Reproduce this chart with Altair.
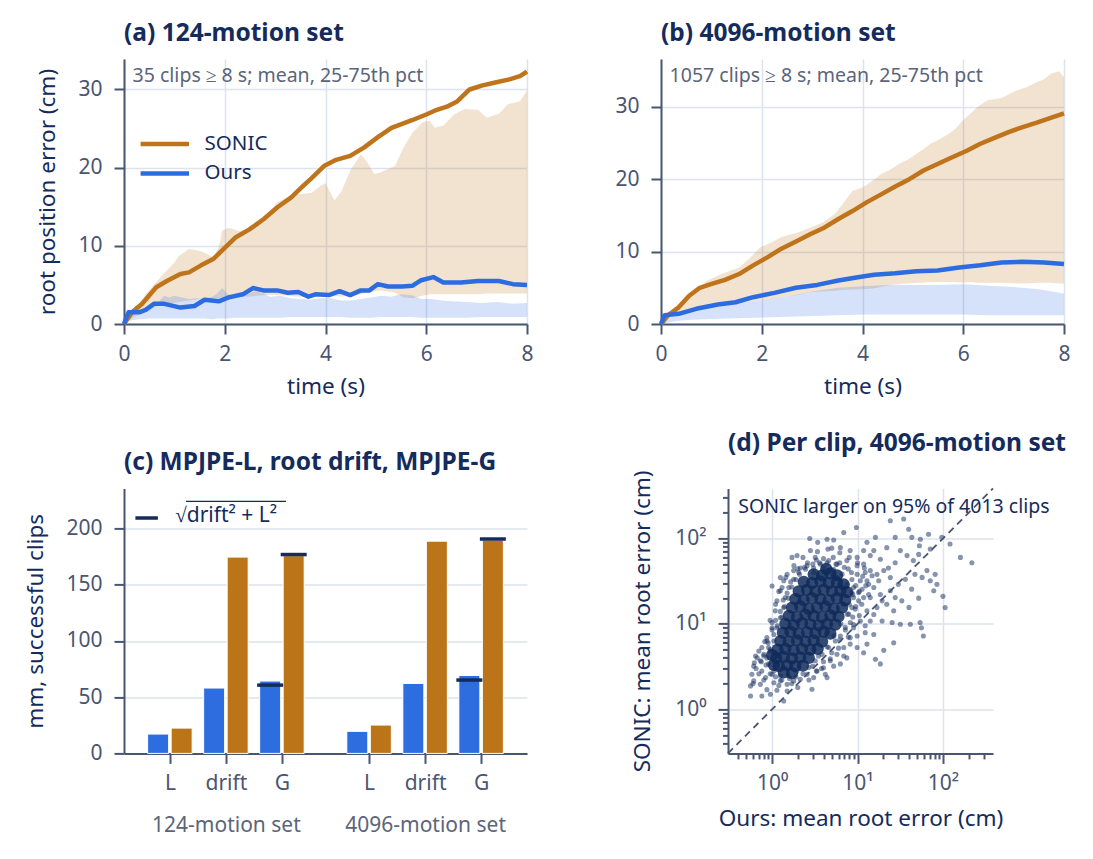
import altair as alt
import pandas as pd

# ============================ DATA ============================
# (a) 124-motion set -- mean root position error (cm)
a_sonic_t = [0, 0.16, 0.36, 0.64, 0.85, 1.12, 1.29, 1.53, 1.77, 1.98, 2.22, 2.49, 2.77, 3.04, 3.32, 3.53, 3.73, 3.97,
             4.21, 4.49, 4.77, 5.04, 5.31, 5.52, 5.73, 6.0, 6.21, 6.41, 6.62, 6.86, 7.1, 7.37, 7.65, 7.86, 8.0]
a_sonic_mean = [0, 1.5, 2.6, 4.7, 5.5, 6.4, 6.6, 7.5, 8.3, 9.6, 11.1, 12.1, 13.4, 14.9, 16.2, 17.5, 18.7, 20.2,
                21.0, 21.5, 22.6, 23.9, 25.1, 25.6, 26.1, 26.8, 27.4, 27.8, 28.5, 30.0, 30.5, 30.9, 31.3, 31.7, 32.3]
a_ours_t = [0, 0.09, 0.3, 0.43, 0.6, 0.78, 1.12, 1.4, 1.6, 1.88, 2.08, 2.36, 2.56, 2.77, 3.04, 3.25, 3.46, 3.66,
            3.8, 4.07, 4.28, 4.49, 4.7, 4.87, 5.04, 5.24, 5.52, 5.73, 5.9, 6.14, 6.34, 6.69, 7.03, 7.44, 7.72, 8.0]
a_ours_mean = [0, 1.5, 1.5, 1.8, 2.6, 2.6, 2.1, 2.3, 3.1, 2.9, 3.4, 3.8, 4.6, 4.3, 4.3, 4.0, 4.1, 3.5,
               3.8, 3.7, 4.2, 3.7, 4.3, 4.3, 5.1, 4.8, 4.8, 4.9, 5.6, 6.0, 5.3, 5.3, 5.5, 5.5, 5.1, 5.0]
# (a) 25-75th percentile bands
a_sband_t = [0, 0.2, 0.43, 0.78, 0.98, 1.09, 1.29, 1.4, 1.53, 1.67, 1.77, 1.88, 1.95, 2.08, 2.29, 2.43, 2.63, 2.84,
             3.04, 3.25, 3.46, 3.73, 3.9, 4.0, 4.18, 4.32, 4.49, 4.7, 4.83, 4.97, 5.1, 5.38, 5.55, 5.73, 5.93, 6.07,
             6.17, 6.34, 6.55, 6.76, 7.03, 7.2, 7.44, 7.62, 7.86, 8.0]
a_sband_hi = [0, 1.6, 3.8, 6.4, 7.7, 8.7, 9.6, 9.5, 9.3, 8.9, 8.5, 9.8, 12.0, 12.3, 11.9, 12.0, 12.7, 13.8,
              15.6, 16.2, 16.6, 16.8, 17.7, 18.0, 15.8, 17.0, 19.6, 21.7, 20.7, 19.2, 19.4, 20.2, 22.6, 24.5, 25.8, 26.0,
              25.1, 25.4, 26.8, 27.5, 27.4, 26.4, 26.9, 28.1, 28.5, 29.9]
a_sband_lo = [0, 0.9, 1.7, 2.6, 2.7, 2.8, 3.0, 3.1, 3.3, 3.4, 3.3, 3.3, 3.4, 3.6, 3.7, 3.5, 3.6, 3.7,
              3.7, 3.6, 3.5, 3.5, 3.6, 3.7, 3.6, 3.5, 3.6, 3.8, 4.0, 4.2, 4.3, 4.0, 3.4, 3.3, 3.6, 3.8,
              3.8, 3.8, 3.8, 3.8, 3.8, 3.9, 3.9, 3.9, 3.9, 3.9]
a_oband_t = [0, 0.1, 0.3, 0.5, 0.7, 0.8, 0.9, 1.0, 1.15, 1.3, 1.45, 1.6, 1.75, 1.85, 1.95, 2.05, 2.2, 2.4, 2.6, 2.75,
             2.9, 3.1, 3.3, 3.5, 3.7, 3.9, 4.1, 4.3, 4.5, 4.7, 4.9, 5.1, 5.3, 5.5, 5.7, 5.9, 6.1, 6.3, 6.5, 6.8,
             7.1, 7.4, 7.7, 8.0]
a_oband_hi = [0, 1.0, 1.6, 2.0, 2.9, 3.6, 3.4, 3.6, 3.4, 3.2, 3.3, 3.3, 3.5, 3.9, 4.6, 3.9, 3.5, 3.7, 4.2, 4.0,
              3.5, 3.6, 3.3, 3.2, 3.1, 3.3, 3.3, 3.0, 3.0, 3.2, 3.4, 3.6, 3.5, 3.8, 3.7, 3.2, 3.2, 3.0, 2.9, 2.8,
              2.7, 2.8, 2.6, 2.7]
a_oband_lo = [0, 0.4, 0.6, 0.7, 0.7, 0.7, 0.7, 0.7, 0.7, 0.7, 0.7, 0.7, 0.6, 0.7, 0.7, 0.7, 0.8, 0.8, 0.8, 0.8,
              0.8, 0.8, 0.9, 0.9, 0.9, 0.9, 0.9, 0.9, 0.8, 0.8, 0.8, 0.9, 0.9, 0.9, 0.9, 0.8, 0.8, 0.8, 0.8, 0.8,
              0.9, 0.9, 0.9, 0.9]

# (b) 4096-motion set
b_sonic_t = [0, 0.14, 0.35, 0.56, 0.77, 0.99, 1.27, 1.55, 1.83, 2.11, 2.39, 2.68, 2.96, 3.24, 3.52, 3.8, 4.08, 4.37,
             4.65, 4.93, 5.21, 5.49, 5.77, 6.06, 6.34, 6.62, 6.9, 7.18, 7.46, 7.75, 8.0]
b_sonic_mean = [0, 1.2, 2.3, 3.9, 5.0, 5.5, 6.1, 6.9, 8.1, 9.2, 10.4, 11.4, 12.4, 13.3, 14.5, 15.6, 16.8, 17.9,
                19.0, 20.0, 21.2, 22.1, 23.0, 23.9, 24.9, 25.7, 26.5, 27.2, 27.8, 28.5, 29.1]
b_ours_t = [0, 0.07, 0.35, 0.7, 1.13, 1.48, 1.83, 2.25, 2.68, 3.1, 3.52, 3.94, 4.23, 4.65, 5.07, 5.49, 5.92, 6.34,
            6.76, 7.18, 7.61, 8.0]
b_ours_mean = [0, 1.2, 1.4, 2.1, 2.7, 3.0, 3.7, 4.3, 5.0, 5.4, 6.0, 6.5, 6.8, 7.0, 7.3, 7.4, 7.8, 8.1,
               8.5, 8.6, 8.5, 8.3]
b_sband_t = [0, 0.3, 0.6, 0.92, 1.2, 1.55, 1.75, 1.97, 2.2, 2.39, 2.7, 2.96, 3.2, 3.45, 3.6, 3.8, 4.01, 4.2, 4.37,
             4.55, 4.72, 4.9, 5.07, 5.2, 5.35, 5.5, 5.7, 5.85, 5.99, 6.15, 6.27, 6.48, 6.76, 7.04, 7.25, 7.46, 7.6,
             7.75, 7.9, 8.0]
b_sband_hi = [0, 2.0, 4.2, 6.0, 6.9, 7.8, 9.0, 10.6, 11.3, 12.0, 12.6, 13.3, 14.0, 15.2, 16.5, 18.4, 18.9, 19.8, 20.7,
              21.3, 22.1, 22.7, 23.5, 24.1, 24.9, 25.4, 26.2, 27.0, 28.1, 29.1, 29.9, 30.9, 31.2, 32.2, 32.7, 33.4, 33.8,
              34.6, 34.9, 34.1]
b_sband_lo = [0, 1.3, 1.6, 2.1, 2.5, 2.85, 3.05, 3.3, 3.5, 3.7, 4.0, 4.4, 4.5, 4.6, 4.7, 4.75, 4.8, 4.9, 5.1,
              5.4, 5.5, 5.6, 5.7, 5.7, 5.8, 5.8, 5.8, 5.8, 5.7, 5.8, 5.7, 5.7, 5.7, 5.6, 5.6, 5.7, 5.7,
              5.7, 5.6, 5.6]
b_oband_t = [0, 0.3, 0.6, 1.0, 1.5, 2.0, 2.5, 3.0, 3.5, 4.0, 4.5, 5.0, 5.5, 6.0, 6.5, 7.0, 7.5, 8.0]
b_oband_hi = [0, 1.3, 1.6, 2.2, 2.8, 3.3, 3.8, 4.5, 5.0, 5.2, 5.4, 5.4, 5.4, 5.5, 5.3, 5.1, 4.8, 4.2]
b_oband_lo = [0, 0.4, 0.6, 0.7, 0.8, 0.9, 1.0, 1.1, 1.2, 1.3, 1.3, 1.3, 1.3, 1.3, 1.2, 1.2, 1.2, 1.2]

# (c) bar values, mm on successful clips
sets = ["124-motion set", "4096-motion set"]
metrics = ["L", "drift", "G"]
ours_mm = [17.2, 58.1, 64.3, 19.6, 62.2, 69.3]
sonic_mm = [22.5, 174.5, 175.8, 25.2, 188.7, 189.6]
ours_g_combined = [60.7, 65.2]
sonic_g_combined = [176.8, 190.6]

# (d) per-clip mean root error (cm): sparse / medium points
d_ours = [2.76, 3.42, 4.40, 5.26, 5.0, 6.9, 9.7, 12.9, 16.2, 24.2, 34.7, 27.6, 39.7, 43.2, 54.4, 53, 67.8, 97, 121,
          160, 218, 100, 106, 85, 71, 54, 59, 56, 41.5, 40, 31.7, 25.4, 26.5, 20.3, 16.2, 18.5, 12.9, 11.8, 9.9, 15.5,
          12.3, 7.5, 6.3, 4.4, 2.93, 1.50, 1.37, 0.956, 0.76, 0.56, 0.56, 0.61, 0.58, 0.61, 0.64, 0.87, 1.0, 1.0,
          1.25, 1.31, 1.71, 1.96, 2.81, 3.2, 0.87, 1.14, 0.73, 52, 78, 65, 47, 57, 33, 30, 24.2, 22, 26.5, 19.4,
          27.6, 36.3, 43, 45, 38, 31.7, 27.6, 22, 18.5, 14.1, 15.5, 11.8, 9.9, 8.2, 6.3, 81, 52, 71,
          0.73, 0.80, 0.76, 0.84, 0.91, 1.0, 1.05, 1.25, 1.5, 1.79, 2.14, 2.57, 3.36, 4.0, 4.8, 5.75, 6.9, 8.2,
          9.0, 10.8, 12.9, 14.1, 15.5, 16.9, 14.1, 11.8, 9.9, 7.5, 5.75, 4.4, 3.68, 3.07, 2.57, 2.14, 1.79, 1.5,
          1.37, 1.25, 1.14, 1.09, 1.0, 0.87, 0.76, 0.67, 11.8, 10.8, 9.0, 18.5, 16.9, 14.1, 15.5, 12.3, 9.9, 8.2,
          6.9, 5.26, 4.2, 3.07, 20.3, 24.2, 23, 17.7, 13.5, 19.4, 9.9, 8.6, 10.3,
          7.53, 8.6, 6.9, 7.9, 9.4, 11.3, 12.9, 14.8, 12.3, 10.3, 9.0, 8.24, 7.2, 6.3, 5.5, 4.6, 3.85, 3.2, 2.7,
          1.96, 1.57, 1.25, 1.05, 0.91, 0.87, 0.96, 1.05, 1.14, 1.25, 1.37, 1.43, 1.57, 1.79, 2.05, 2.46, 3.07,
          4.02, 5.26, 6.6, 5.75,
          0.85, 0.8, 0.95, 0.9, 1.05, 1.0, 1.15, 1.1, 1.3, 1.25, 1.4, 1.35, 1.55, 1.5, 1.7, 1.65, 1.9, 2.1, 2.0,
          2.4, 2.6, 3.0, 3.3, 3.6, 4.0, 4.6, 5.2, 5.6, 6.2, 7.0, 7.8, 8.5, 8.6, 9.5, 8.8, 10.5, 8.0, 9.5, 7.6,
          8.8, 6.4, 7.2, 5.3, 6.2, 4.4, 5.0, 3.5, 4.0, 3.0, 3.3, 2.3, 1.9, 1.6, 1.3, 1.1, 0.95, 1.2, 1.7, 0.8,
          0.7, 0.65, 0.75,
          0.6, 0.62, 0.7, 0.82, 0.95, 1.1, 1.2, 1.45, 1.8, 2.3, 3.4, 4.5, 6.2, 8.0, 10, 12, 11.5, 12.5, 13.5,
          11.2, 10.5, 9.0, 7.8, 6.0, 4.8, 3.8, 2.7, 2.0]
d_sonic = [100, 90, 98, 96, 77, 117, 134, 90, 103, 161, 169, 103, 128, 103, 98, 82, 112, 103, 86,
           60, 52, 21, 15.5, 29, 32, 10.4, 7.2, 9.0, 9.9, 15.6, 9.9, 10.4, 6.0, 4.9, 3.85, 3.4, 5.8, 4.6, 5.3, 7.5,
           7.9, 4.0, 3.4, 2.35, 1.72, 1.64, 1.25, 1.5, 1.43, 1.43, 1.88, 2.15, 2.57, 3.2, 4.2, 6.9, 10.4, 27.8,
           34.8, 26.7, 60, 63, 72, 60, 1.7, 1.67, 1.96, 20, 24.4, 42, 38, 35, 18.6, 29, 24.4, 17, 14.2, 10.8,
           20.3, 33.2, 25.5, 55, 63, 72, 52, 78, 57, 63, 72, 72, 60, 72, 78, 38, 65, 75,
           3.7, 4.4, 2.8, 2.35, 5.3, 2.57, 2.05, 2.15, 1.96, 2.15, 2.25, 2.57, 2.8, 3.07, 3.7, 4.4, 5.3, 6.9,
           9.0, 10.8, 14.2, 20.3, 26.7, 38, 42, 50, 48, 55, 50, 52, 50, 45, 48, 45, 42, 38,
           32, 24.4, 18.6, 14.2, 9.0, 6.3, 5.3, 4.0, 20.3, 32, 26.7, 22, 15.5, 10.8, 12.9, 9.5, 7.2, 5.8,
           4.2, 3.2, 2.57, 2.35, 42, 34.8, 45, 32, 29, 18.6, 38, 15.5, 18.6,
           29, 23.3, 17, 13, 14.9, 25.4, 32, 36.6, 40, 23.3, 20.3, 10.4, 9.1, 7.2, 6.3, 5.3, 4.4, 3.7, 3.1,
           2.8, 2.46, 2.46, 2.8, 3.4, 4.0, 4.8, 6.3, 9.0, 11.8, 15.5, 20.3, 26.7, 33.3, 40, 43.6, 40,
           45.6, 43.6, 38.2, 34.8,
           3.3, 4.2, 5.0, 6.0, 7.5, 8.5, 9.5, 11, 12, 14, 16, 19, 20, 23, 27, 31, 33, 38, 44,
           46, 52, 50, 56, 52, 58, 55, 60, 50, 52, 46, 44, 40, 33, 28, 22, 24, 17, 16, 13,
           12, 10, 8.5, 7.2, 6.5, 5.4, 4.6, 4.2, 3.6, 3.2, 2.8, 2.6, 2.4, 2.3, 2.2, 2.4, 2.6, 1.9, 2.0, 2.2,
           2.6, 3.0, 3.6,
           2.0, 3.5, 4.8, 6.2, 11, 17, 24, 35, 48, 60, 70, 75, 68, 60, 52, 45, 36, 28, 22,
           17, 12.5, 9.8, 7.0, 5.2, 3.9, 3.0, 2.2, 1.8]
# (d) dense core of the cloud
core_ours = [3.07, 3.85, 4.81, 5.75, 4.3,
             2.35, 2.94, 3.68, 4.6, 5.75, 6.88,
             2.05, 2.57, 3.21, 4.02, 5.03, 6.29, 7.53,
             1.87, 2.35, 2.94, 3.68, 4.6, 5.75, 7.2,
             1.71, 2.14, 2.69, 3.36, 4.2, 5.26, 6.6,
             1.57, 1.96, 2.46, 3.07, 3.85, 4.81, 6.0,
             1.43, 1.79, 2.24, 2.81, 3.51, 4.4, 5.5,
             1.34, 1.64, 2.05, 2.57, 3.21, 4.02, 4.81,
             1.25, 1.57, 1.96, 2.46, 3.07, 3.85,
             1.16, 1.43, 1.79, 2.24, 2.81, 3.42,
             1.12, 1.37, 1.71, 2.14, 2.69, 1.0,
             1.2, 1.5, 1.87, 2.3, 1.05,
             1.37, 1.71]
core_sonic = [38, 37, 39, 37, 44,
              31, 30, 31.5, 30, 30.5, 29,
              24, 25, 24, 25, 24, 24.5, 23.5,
              19.5, 19, 20, 19.5, 19, 20, 19,
              15.5, 16, 15, 15.5, 16, 15, 15.5,
              12.4, 12, 12.8, 12.4, 12, 12.6, 12.2,
              10, 9.7, 10.2, 9.9, 9.6, 10, 9.8,
              7.9, 8.1, 7.7, 8, 7.8, 8.1, 7.7,
              6.3, 6.2, 6.4, 6.2, 6.4, 6.2,
              5.0, 5.1, 4.9, 5.1, 5.0, 5.1,
              4.0, 4.1, 3.95, 4.05, 4.0, 4.3,
              3.2, 3.3, 3.2, 3.25, 3.3,
              2.7, 2.65]
diag = [0.305, 385]
log_minor = [0.4, 0.5, 0.6, 0.7, 0.8, 0.9, 2, 3, 4, 5, 6, 7, 8, 9, 20, 30, 40, 50, 60, 70, 80, 90, 200, 300]
log_major = [1, 10, 100]
log_major_labels = ["10⁰", "10¹", "10²"]

# ============================ STYLE ============================
FONT = "Noto Sans"
NAVY = "#142b5c"
AXC = "#4a5571"
GRIDC = "#dde3ed"
MUTED = "#5b6579"
ORANGE = "#bf741b"
BLUE = "#2c6ce0"
DOT = "#0f2a5b"
W, H = 403, 265
NOTE_FS = 19.5
LEG_FS = 20.5


def one(**kw):
    return pd.DataFrame({k: [v] for k, v in kw.items()})


def line_panel(title, note, s_t, s_m, o_t, o_m, sb, ob, ymax, ytitle, legend):
    xs = alt.Scale(domain=[0, 8], nice=False, zero=False)
    ys = alt.Scale(domain=[0, ymax], nice=False)
    xax = alt.Axis(values=[0, 2, 4, 6, 8], title="time (s)", format="d", grid=True)
    yax = alt.Axis(values=[0, 10, 20, 30], title=ytitle, format="d", grid=True)
    X = alt.X("t:Q", scale=xs, axis=xax)
    layers = []
    for (bt, blo, bhi), col in [(sb, ORANGE), (ob, BLUE)]:
        df = pd.DataFrame({"t": bt, "lo": blo, "hi": bhi})
        layers.append(alt.Chart(df).mark_area(color=col, opacity=0.2).encode(
            x=X, y=alt.Y("lo:Q", scale=ys, axis=yax), y2="hi:Q"))
    for tt, mm, col in [(s_t, s_m, ORANGE), (o_t, o_m, BLUE)]:
        df = pd.DataFrame({"t": tt, "v": mm})
        layers.append(alt.Chart(df).mark_line(color=col, strokeWidth=4.5, strokeJoin="round").encode(
            x=X, y=alt.Y("v:Q", scale=ys, axis=yax)))
    layers.append(alt.Chart(one(label=note)).mark_text(
        align="left", baseline="middle", font=FONT, fontSize=NOTE_FS, color=MUTED).encode(
        x=alt.value(8.6), y=alt.value(17), text="label:N"))
    if legend:
        for name, col, yy in [("SONIC", ORANGE, 85), ("Ours", BLUE, 114.4)]:
            layers.append(alt.Chart(one(label=name)).mark_rule(color=col, strokeWidth=4.5).encode(
                x=alt.value(16.6), x2=alt.value(65), y=alt.value(yy)))
            layers.append(alt.Chart(one(label=name)).mark_text(
                align="left", baseline="middle", font=FONT, fontSize=LEG_FS, color=NAVY).encode(
                x=alt.value(80.6), y=alt.value(yy), text="label:N"))
    return alt.layer(*layers).properties(width=W, height=H, title=title)


pa = line_panel("(a) 124-motion set", "35 clips ≥ 8 s; mean, 25-75th pct",
                a_sonic_t, a_sonic_mean, a_ours_t, a_ours_mean,
                (a_sband_t, a_sband_lo, a_sband_hi), (a_oband_t, a_oband_lo, a_oband_hi),
                33.9, "root position error (cm)", True)
pb = line_panel("(b) 4096-motion set", "1057 clips ≥ 8 s; mean, 25-75th pct",
                b_sonic_t, b_sonic_mean, b_ours_t, b_ours_mean,
                (b_sband_t, b_sband_lo, b_sband_hi), (b_oband_t, b_oband_lo, b_oband_hi),
                36.6, None, False)

# ---- (c) grouped bars ----
GROUP_STEP = 3.556
OFF = 0.21
rows, marks, positions, pos_labels = [], [], [], []
for si, s in enumerate(sets):
    for mi, m in enumerate(metrics):
        k = si * 3 + mi
        p = mi + si * GROUP_STEP
        positions.append(p)
        pos_labels.append(m)
        rows.append({"pos": p - OFF, "val": ours_mm[k], "method": "Ours"})
        rows.append({"pos": p + OFF, "val": sonic_mm[k], "method": "SONIC"})
    p_g = 2 + si * GROUP_STEP
    marks.append({"pos": p_g - OFF, "val": ours_g_combined[si]})
    marks.append({"pos": p_g + OFF, "val": sonic_g_combined[si]})
bars_df = pd.DataFrame(rows)
marks_df = pd.DataFrame(marks)
group_centers = [1 + si * GROUP_STEP for si in range(len(sets))]


def label_expr(vals, labs):
    e = f"'{labs[-1]}'"
    for v, l in reversed(list(zip(vals[:-1], labs[:-1]))):
        e = f"datum.value < {v + 0.5} ? '{l}' : " + e
    return e


xs_c = alt.Scale(domain=[-0.73, 6.286], nice=False, zero=False)
ys_c = alt.Scale(domain=[0, 235.6], nice=False)
yax_c = alt.Axis(values=[0, 50, 100, 150, 200], title="mm, successful clips", grid=True)
xax_c = alt.Axis(values=positions, labelExpr=label_expr(positions, pos_labels), title=None,
                 grid=False, orient="bottom")
xax_grp = alt.Axis(values=group_centers, labelExpr=label_expr(group_centers, sets), title=None,
                   grid=False, ticks=False, tickSize=0, domain=False, labelPadding=61,
                   labelColor=MUTED, orient="bottom")
bars = alt.Chart(bars_df).mark_bar(size=21, orient="vertical", stroke="white", strokeWidth=1).encode(
    x=alt.X("pos:Q", scale=xs_c, axis=xax_c),
    y=alt.Y("val:Q", scale=ys_c, axis=yax_c),
    color=alt.Color("method:N", scale=alt.Scale(domain=["Ours", "SONIC"], range=["#2d6de0", "#bc7419"]),
                    legend=None))
ticks = alt.Chart(marks_df).mark_tick(orient="horizontal", size=26, thickness=3.5, color=NAVY,
                                      opacity=1).encode(
    x=alt.X("pos:Q", scale=xs_c, axis=xax_grp),
    y=alt.Y("val:Q", scale=ys_c, axis=yax_c))
leg_c_line = alt.Chart(one(label="sqrt")).mark_rule(color=NAVY, strokeWidth=3.5).encode(
    x=alt.value(11.4), x2=alt.value(33.9), y=alt.value(29.6))
leg_c_text = alt.Chart(one(label="√drift² + L²")).mark_text(
    align="left", baseline="middle", font=FONT, fontSize=21, color=NAVY).encode(
    x=alt.value(51.2), y=alt.value(28), text="label:N")
leg_c_bar = alt.Chart(one(label="vinculum")).mark_rule(color=NAVY, strokeWidth=1.3).encode(
    x=alt.value(62), x2=alt.value(162), y=alt.value(13))
pc = alt.layer(bars, ticks, leg_c_line, leg_c_text, leg_c_bar).resolve_axis(x="independent").properties(
    width=W, height=H, title="(c) MPJPE-L, root drift, MPJPE-G")

# ---- (d) log-log scatter ----
DS = 265
xs_d = alt.Scale(type="log", domain=[0.305, 385], nice=False)
ys_d = alt.Scale(type="log", domain=[0.305, 385], nice=False)
tick_vals = sorted(log_minor + log_major)
is_major = " || ".join(f"datum.value == {v}" for v in log_major)
lab_d = " : ".join(f"datum.value == {v} ? '{l}'" for v, l in zip(log_major, log_major_labels)) + " : ''"


def log_axis(title, tp):
    return alt.Axis(values=tick_vals, labelExpr=lab_d, title=title, labelOverlap=False, titlePadding=tp,
                    tickSize={"condition": {"test": is_major, "value": 10}, "value": 5.5},
                    gridOpacity={"condition": {"test": is_major, "value": 1}, "value": 0}, grid=True)


xax_d = log_axis("Ours: mean root error (cm)", 14)
yax_d = log_axis("SONIC: mean root error (cm)", 20)
sc_df = pd.DataFrame({"ours": d_ours, "sonic": d_sonic})
core_df = pd.DataFrame({"ours": core_ours, "sonic": core_sonic})
diag_df = pd.DataFrame({"d": diag})
pts = alt.Chart(sc_df).mark_circle(size=26, opacity=0.5, color=DOT, clip=True).encode(
    x=alt.X("ours:Q", scale=xs_d, axis=xax_d), y=alt.Y("sonic:Q", scale=ys_d, axis=yax_d))
core = alt.Chart(core_df).mark_circle(size=150, opacity=0.85, color=DOT, clip=True).encode(
    x=alt.X("ours:Q", scale=xs_d, axis=xax_d), y=alt.Y("sonic:Q", scale=ys_d, axis=yax_d))
dline = alt.Chart(diag_df).mark_line(color=AXC, strokeWidth=1.8, strokeDash=[7, 5]).encode(
    x=alt.X("d:Q", scale=xs_d, axis=xax_d), y=alt.Y("d:Q", scale=ys_d, axis=yax_d))
note_d = alt.Chart(one(label="SONIC larger on 95% of 4013 clips")).mark_text(
    align="left", baseline="middle", font=FONT, fontSize=NOTE_FS, color=NAVY).encode(
    x=alt.value(10.3), y=alt.value(19), text="label:N")
pd_ = alt.layer(core, pts, dline, note_d).properties(width=DS, height=DS, title="(d) Per clip, 4096-motion set")

row1 = alt.hconcat(pa, pb, spacing=134, bounds="flush")
row2 = alt.hconcat(pc, pd_, spacing=201, bounds="flush")
chart = alt.vconcat(row1, row2, spacing=429.4, bounds="flush").properties(
    padding={"left": 16, "top": 12, "right": 10, "bottom": 10})

chart = chart.configure(font=FONT).configure_view(stroke=None).configure_axis(
    domainColor=AXC, domainWidth=2, tickColor=AXC, tickWidth=2, tickSize=10,
    labelColor=AXC, labelFont=FONT, labelFontSize=21, titleColor=NAVY, titleFont=FONT,
    titleFontSize=22.5, titleFontWeight="normal", gridColor=GRIDC, gridWidth=1.5, labelFlush=False
).configure_axisX(labelPadding=9, titlePadding=11).configure_axisY(labelPadding=12, titlePadding=18
).configure_title(font=FONT, fontSize=24.5, fontWeight="bold", color=NAVY, anchor="start", frame="group",
                  offset=13)

chart.save("out.html", embed_options={"renderer": "svg", "actions": False})
